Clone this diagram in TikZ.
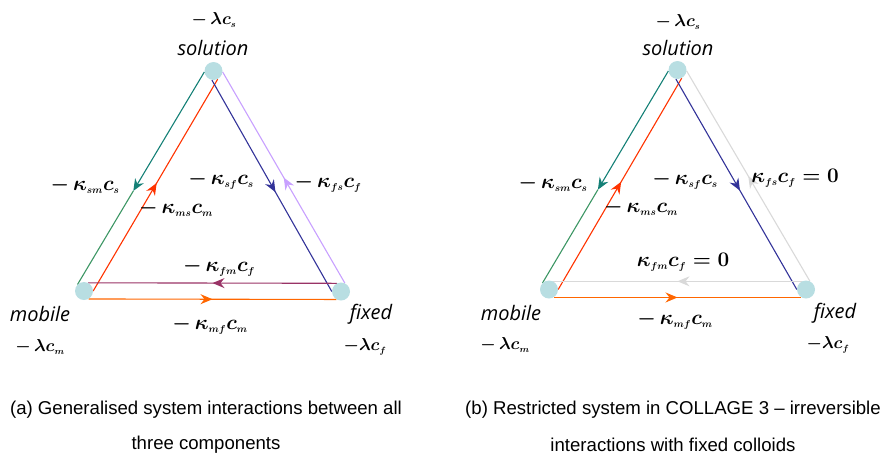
\documentclass[tikz,border=0pt]{standalone}
\usepackage{fontspec}
\usepackage{amsmath}
\usetikzlibrary{arrows.meta,decorations.markings}
\newfontfamily\capfont{Liberation Sans}
\newfontfamily\namefont{Open Sans}
\newcommand\mysub[1]{_{\scriptscriptstyle #1}}
\definecolor{dotc}{RGB}{184,222,226}
\definecolor{tealc}{RGB}{20,128,118}
\definecolor{greenc}{RGB}{60,150,100}
\definecolor{redc}{RGB}{255,51,0}
\definecolor{navyc}{RGB}{51,51,153}
\definecolor{lavc}{RGB}{200,160,255}
\definecolor{purpc}{RGB}{153,51,102}
\definecolor{orangec}{RGB}{255,102,0}
\definecolor{grayc}{RGB}{217,217,217}
\pgfdeclarelayer{bg}\pgfsetlayers{bg,main}
\tikzset{
 dot/.style={circle,fill=dotc,minimum size=18pt,inner sep=0pt},
 conn/.style={line width=1.1pt},
 midarrow/.style={postaction={decorate},decoration={markings,mark=at position #1 with {\arrow{Stealth[length=12pt,width=10pt,inset=4pt]}}}},
 midarrow/.default=0.5,
 lbl/.style={font=\fontsize{20.5}{22}\selectfont\boldmath, inner sep=0pt},
 lam/.style={font=\fontsize{18.5}{20}\selectfont\boldmath, inner sep=0pt},
 nm/.style={font=\namefont\itshape\fontsize{20}{22}\selectfont, inner sep=0pt},
 captxt/.style={font=\capfont\fontsize{18.6}{21}\selectfont, inner sep=0pt},
}
\begin{document}
\begin{tikzpicture}[x=1pt,y=-1pt]
\useasboundingbox (0,0) rectangle (884,459);
% ---------- panel (a)
\node[dot] (sa) at (213.5,71) {};
\node[dot] (ma) at (84,291) {};
\node[dot] (fa) at (341,291.5) {};
\begin{pgfonlayer}{bg}
\path (sa.186) -- (ma.135) coordinate[pos=0.56] (ta);
\draw[conn,tealc,-{Stealth[length=12pt,width=10pt,inset=4pt]}] (sa.186) -- (ta);
\draw[conn,greenc] (ta) -- (ma.135);
\draw[conn,redc,midarrow=0.51] (ma.0) -- (sa.297);
\draw[conn,navyc,midarrow=0.53] (sa.260) -- (fa.180);
\draw[conn,lavc,midarrow=0.5] (fa.65) -- (sa.354);
\draw[conn,purpc,midarrow=0.5] (fa.117) -- (ma.63);
\draw[conn,orangec,midarrow=0.5] (ma.-60) -- (fa.-120);
\end{pgfonlayer}
\node[lam] (la1) at (214,20) {$-\,\lambda c\mysub{s}$};
\node[nm] (la2) at (213,48) {solution};
\node[nm] (la3) at (40,314) {mobile};
\node[lam] (la4) at (40,347) {$-\,\lambda c\mysub{m}$};
\node[nm] (la5) at (371,314) {fixed};
\node[lam] (la6) at (365,347) {$-\lambda c\mysub{f}$};
\node[lbl] (ka1) at (85,185) {$-\,\kappa\mysub{sm}c\mysub{s}$};
\node[lbl] (ka2) at (176,208) {$-\,\kappa\mysub{ms}c\mysub{m}$};
\node[lbl] (ka3) at (221,180) {$-\,\kappa\mysub{sf}c\mysub{s}$};
\node[lbl] (ka4) at (328,183) {$-\,\kappa\mysub{fs}c\mysub{f}$};
\node[lbl] (ka5) at (219,267) {$-\,\kappa\mysub{fm}c\mysub{f}$};
\node[lbl] (ka6) at (210,325) {$-\,\kappa\mysub{mf}c\mysub{m}$};
\node[captxt] (ca1) at (206,410) {(a) Generalised system interactions between all};
\node[captxt] (ca2) at (206,445) {three components};
% ---------- panel (b)
\node[dot] (sb) at (677.5,70) {};
\node[dot] (mb) at (549,289.5) {};
\node[dot] (fb) at (806,289.5) {};
\begin{pgfonlayer}{bg}
\path (sb.186) -- (mb.135) coordinate[pos=0.56] (tb);
\draw[conn,tealc,-{Stealth[length=12pt,width=10pt,inset=4pt]}] (sb.186) -- (tb);
\draw[conn,greenc] (tb) -- (mb.135);
\draw[conn,redc,midarrow=0.51] (mb.0) -- (sb.297);
\draw[conn,navyc,midarrow=0.53] (sb.260) -- (fb.180);
\draw[conn,grayc,midarrow=0.5] (fb.65) -- (sb.354);
\draw[conn,grayc,midarrow=0.5] (fb.117) -- (mb.63);
\draw[conn,orangec,midarrow=0.5] (mb.-60) -- (fb.-120);
\end{pgfonlayer}
\node[lam] (lb1) at (678,22) {$-\,\lambda c\mysub{s}$};
\node[nm] (lb2) at (678,48) {solution};
\node[nm] (lb3) at (511,313) {mobile};
\node[lam] (lb4) at (505,345) {$-\,\lambda c\mysub{m}$};
\node[nm] (lb5) at (835,313) {fixed};
\node[lam] (lb6) at (828,345) {$-\lambda c\mysub{f}$};
\node[lbl] (kb1) at (553,183) {$-\,\kappa\mysub{sm}c\mysub{s}$};
\node[lbl] (kb2) at (641,207) {$-\,\kappa\mysub{ms}c\mysub{m}$};
\node[lbl] (kb3) at (685,180) {$-\,\kappa\mysub{sf}c\mysub{s}$};
\node[lbl] (kb4) at (795,178) {$\kappa\mysub{fs}c\mysub{f}=0$};
\node[lbl] (kb5) at (683,262) {$\kappa\mysub{fm}c\mysub{f}=0$};
\node[lbl] (kb6) at (675,320) {$-\,\kappa\mysub{mf}c\mysub{m}$};
\node[captxt] (cb1) at (673,410) {(b) Restricted system in COLLAGE 3 – irreversible};
\node[captxt] (cb2) at (673,445) {interactions with fixed colloids};
\end{tikzpicture}
\end{document}
